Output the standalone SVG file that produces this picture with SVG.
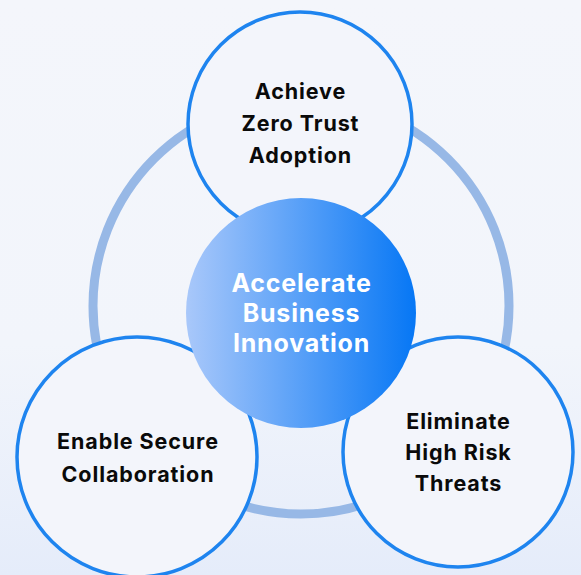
<svg xmlns="http://www.w3.org/2000/svg" width="581" height="575" viewBox="0 0 581 575">
<defs>
<linearGradient id="bg" x1="0" y1="0" x2="0" y2="1">
<stop offset="0" stop-color="#f4f6fb"/>
<stop offset="0.6" stop-color="#f2f5fb"/>
<stop offset="1" stop-color="#e5ecfa"/>
</linearGradient>
<linearGradient id="core" x1="0" y1="0" x2="1" y2="0">
<stop offset="0" stop-color="#a9c8fa"/>
<stop offset="1" stop-color="#0677f5"/>
</linearGradient>
<style>
.node{fill:#f3f5fb;stroke:#1e84ef;stroke-width:3.5}
.lbl{font-family:Inter,"Liberation Sans",sans-serif;font-weight:700;font-size:21.5px;letter-spacing:0.9px;fill:#0a0a0a;text-anchor:middle}
.clbl{font-family:Inter,"Liberation Sans",sans-serif;font-weight:700;font-size:25px;letter-spacing:0.8px;fill:#ffffff;text-anchor:middle}
</style>
</defs>
<rect width="581" height="575" fill="url(#bg)"/>
<g id="connectors">
<circle cx="301" cy="306" r="208" fill="none" stroke="#97b8e6" stroke-width="9"/>
</g>
<g id="node-top">
<circle class="node" cx="300" cy="124" r="112"/>
<text class="lbl" x="300.5" y="99">Achieve</text>
<text class="lbl" x="300.5" y="131">Zero Trust</text>
<text class="lbl" x="300.5" y="163">Adoption</text>
</g>
<g id="node-left">
<circle class="node" cx="137" cy="457" r="120"/>
<text class="lbl" x="138" y="449">Enable Secure</text>
<text class="lbl" x="138" y="482">Collaboration</text>
</g>
<g id="node-right">
<circle class="node" cx="458" cy="452" r="115"/>
<text class="lbl" x="458.5" y="429">Eliminate</text>
<text class="lbl" x="458.5" y="460">High Risk</text>
<text class="lbl" x="458.5" y="491">Threats</text>
</g>
<g id="node-center">
<circle cx="301" cy="313" r="115" fill="url(#core)"/>
<text class="clbl" x="301.5" y="292">Accelerate</text>
<text class="clbl" x="301.5" y="322">Business</text>
<text class="clbl" x="301.5" y="352">Innovation</text>
</g>
</svg>
